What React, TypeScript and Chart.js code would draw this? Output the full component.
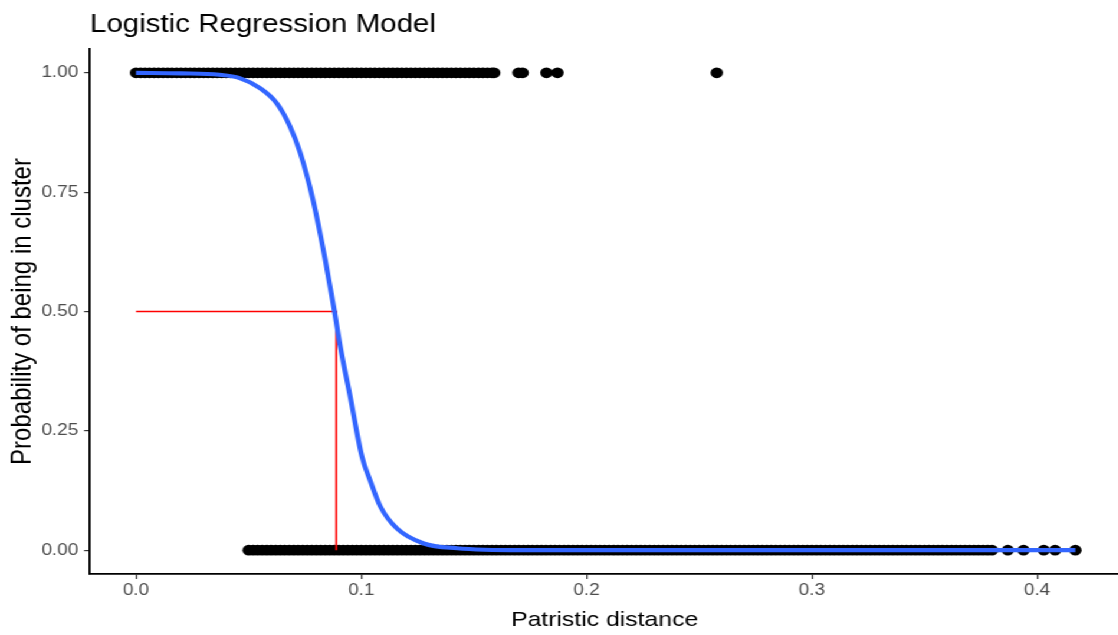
import { useEffect, useRef } from "react";
import { Chart, registerables } from "chart.js";

Chart.register(...registerables);

// Observed patristic distances for pairs inside a cluster (probability 1)
const inClusterDistances = [
  0, 0.002, 0.004, 0.006, 0.008, 0.01, 0.012, 0.014, 0.016, 0.018,
  0.02, 0.022, 0.024, 0.026, 0.028, 0.03, 0.032, 0.034, 0.036, 0.038,
  0.04, 0.042, 0.044, 0.046, 0.048, 0.05, 0.052, 0.054, 0.056, 0.058,
  0.06, 0.062, 0.064, 0.066, 0.068, 0.07, 0.072, 0.074, 0.076, 0.078,
  0.08, 0.082, 0.084, 0.086, 0.088, 0.09, 0.092, 0.094, 0.096, 0.098,
  0.1, 0.102, 0.104, 0.106, 0.108, 0.11, 0.112, 0.114, 0.116, 0.118,
  0.12, 0.122, 0.124, 0.126, 0.128, 0.13, 0.132, 0.134, 0.136, 0.138,
  0.14, 0.142, 0.144, 0.146, 0.148, 0.15, 0.152, 0.154, 0.156, 0.158,
  0.159, 0.1698, 0.1716, 0.1822, 0.1871, 0.2578,
];

// Observed patristic distances for pairs outside a cluster (probability 0)
const outClusterDistances = [
  0.05, 0.052, 0.054, 0.056, 0.058, 0.06, 0.062, 0.064, 0.066, 0.068,
  0.07, 0.072, 0.074, 0.076, 0.078, 0.08, 0.082, 0.084, 0.086, 0.088,
  0.09, 0.092, 0.094, 0.096, 0.098, 0.1, 0.102, 0.104, 0.106, 0.108,
  0.11, 0.112, 0.114, 0.116, 0.118, 0.12, 0.122, 0.124, 0.126, 0.128,
  0.13, 0.132, 0.134, 0.136, 0.138, 0.14, 0.142, 0.144, 0.146, 0.148,
  0.15, 0.152, 0.154, 0.156, 0.158, 0.16, 0.162, 0.164, 0.166, 0.168,
  0.17, 0.172, 0.174, 0.176, 0.178, 0.18, 0.182, 0.184, 0.186, 0.188,
  0.19, 0.192, 0.194, 0.196, 0.198, 0.2, 0.202, 0.204, 0.206, 0.208,
  0.21, 0.212, 0.214, 0.216, 0.218, 0.22, 0.222, 0.224, 0.226, 0.228,
  0.23, 0.232, 0.234, 0.236, 0.238, 0.24, 0.242, 0.244, 0.246, 0.248,
  0.25, 0.252, 0.254, 0.256, 0.258, 0.26, 0.262, 0.264, 0.266, 0.268,
  0.27, 0.272, 0.274, 0.276, 0.278, 0.28, 0.282, 0.284, 0.286, 0.288,
  0.29, 0.292, 0.294, 0.296, 0.298, 0.3, 0.302, 0.304, 0.306, 0.308,
  0.31, 0.312, 0.314, 0.316, 0.318, 0.32, 0.322, 0.324, 0.326, 0.328,
  0.33, 0.332, 0.334, 0.336, 0.338, 0.34, 0.342, 0.344, 0.346, 0.348,
  0.35, 0.352, 0.354, 0.356, 0.358, 0.36, 0.362, 0.364, 0.366, 0.368,
  0.37, 0.372, 0.374, 0.376, 0.378, 0.38,
  0.387, 0.394, 0.403, 0.408, 0.417,
];

// Fitted logistic regression curve
const fitDistances = [
  0, 0.02, 0.037, 0.046, 0.055, 0.0625, 0.0684, 0.0729, 0.0785, 0.084, 0.088, 0.0907,
  0.0951, 0.1003, 0.104, 0.1084, 0.1159, 0.1277, 0.1425, 0.1707, 0.25, 0.3, 0.38, 0.417,
];
const fitProbabilities = [
  1.0, 0.999, 0.996, 0.989, 0.968, 0.936, 0.887, 0.832, 0.735, 0.608, 0.503, 0.426,
  0.321, 0.196, 0.145, 0.092, 0.045, 0.014, 0.004, 0.0, 0.0, 0.0, 0.0, 0.0,
];

// Distance at which the fitted probability crosses 0.5
const cutoffDistance = 0.0889;
const cutoffProbability = 0.5;

const xTickValues = [0, 0.1, 0.2, 0.3, 0.4];
const yTickValues = [0, 0.25, 0.5, 0.75, 1];

const FONT = "'Liberation Sans', Arial, Helvetica, sans-serif";
// The drawing is made on a narrower canvas and widened with a CSS scale,
// which gives the horizontally stretched look of the figure.
const CANVAS_W = 954;
const CANVAS_H = 635;
const PLOT_RIGHT = CANVAS_W - 6.3;
const STRETCH = 1118 / PLOT_RIGHT;
const PLOT_LEFT = 90 / STRETCH;

const titlePlugin = {
  id: "plotTitle",
  afterDraw(chart: any) {
    const { ctx, chartArea } = chart;
    ctx.save();
    ctx.font = `25px ${FONT}`;
    ctx.fillStyle = "#000000";
    ctx.textAlign = "left";
    ctx.textBaseline = "alphabetic";
    ctx.fillText("Logistic Regression Model", chartArea.left, 32);
    ctx.restore();
  },
};

export default function App() {
  const canvasRef = useRef<HTMLCanvasElement | null>(null);

  useEffect(() => {
    if (!canvasRef.current) return;

    const tickFont = { family: FONT, size: 16 };
    const gridOpts = {
      drawOnChartArea: false,
      drawTicks: true,
      tickLength: 5,
      color: "#333333",
      lineWidth: 1.2,
    };
    const borderOpts = { display: true, color: "#000000", width: 1.8 };

    const chart = new Chart(canvasRef.current, {
      type: "scatter",
      data: {
        datasets: [
          {
            label: "fit",
            data: fitDistances.map((x, i) => ({ x, y: fitProbabilities[i] })),
            showLine: true,
            borderColor: "#3366FF",
            backgroundColor: "#3366FF",
            borderWidth: 4.2,
            pointRadius: 0,
            cubicInterpolationMode: "monotone",
            order: 0,
          },
          {
            label: "cutoff",
            data: [
              { x: 0, y: cutoffProbability },
              { x: cutoffDistance, y: cutoffProbability },
              { x: cutoffDistance, y: 0 },
            ],
            showLine: true,
            borderColor: "#FF0000",
            backgroundColor: "#FF0000",
            borderWidth: 1.6,
            pointRadius: 0,
            tension: 0,
            order: 1,
          },
          {
            label: "observed",
            data: [
              ...inClusterDistances.map((x) => ({ x, y: 1 })),
              ...outClusterDistances.map((x) => ({ x, y: 0 })),
            ],
            backgroundColor: "#000000",
            borderWidth: 0,
            pointRadius: 5.3,
            pointHoverRadius: 5.3,
            order: 2,
          },
        ],
      },
      options: {
        animation: false,
        responsive: false,
        devicePixelRatio: 1,
        layout: { padding: { top: 49, left: 0, right: 0, bottom: 0 } },
        plugins: {
          legend: { display: false },
          tooltip: { enabled: false },
          title: { display: false },
        },
        scales: {
          x: {
            type: "linear",
            min: -0.02044,
            max: 0.43644,
            afterBuildTicks: (scale: any) => {
              scale.ticks = xTickValues.map((value) => ({ value }));
            },
            afterFit: (scale: any) => {
              scale.height = 61;
              scale.paddingLeft = 0;
              scale.paddingRight = 0;
            },
            ticks: {
              callback: (v: any) => Number(v).toFixed(1),
              color: "#4D4D4D",
              font: tickFont,
              padding: 2,
              maxRotation: 0,
              autoSkip: false,
            },
            grid: gridOpts,
            border: borderOpts,
            title: {
              display: true,
              text: "Patristic distance",
              color: "#000000",
              font: { family: FONT, size: 21 },
              padding: { top: 0, bottom: 2 },
            },
          },
          y: {
            type: "linear",
            min: -0.05,
            max: 1.05,
            afterBuildTicks: (scale: any) => {
              scale.ticks = yTickValues.map((value) => ({ value }));
            },
            afterFit: (scale: any) => {
              scale.width = PLOT_LEFT;
              scale.paddingTop = 0;
              scale.paddingBottom = 0;
            },
            ticks: {
              callback: (v: any) => Number(v).toFixed(2),
              color: "#4D4D4D",
              font: tickFont,
              padding: 5,
              autoSkip: false,
            },
            grid: gridOpts,
            border: borderOpts,
            title: {
              display: true,
              text: "Probability of being in cluster",
              color: "#000000",
              font: { family: FONT, size: 24 },
              padding: { top: 5, bottom: 0 },
            },
          },
        },
      },
      plugins: [titlePlugin],
    } as any);

    return () => chart.destroy();
  }, []);

  return (
    <div
      style={{
        position: "fixed",
        left: 0,
        top: 0,
        width: CANVAS_W,
        height: CANVAS_H,
        background: "#ffffff",
        transform: `scaleX(${STRETCH})`,
        transformOrigin: "0 0",
      }}
    >
      <canvas
        ref={canvasRef}
        width={CANVAS_W}
        height={CANVAS_H}
        style={{ display: "block" }}
      />
    </div>
  );
}
